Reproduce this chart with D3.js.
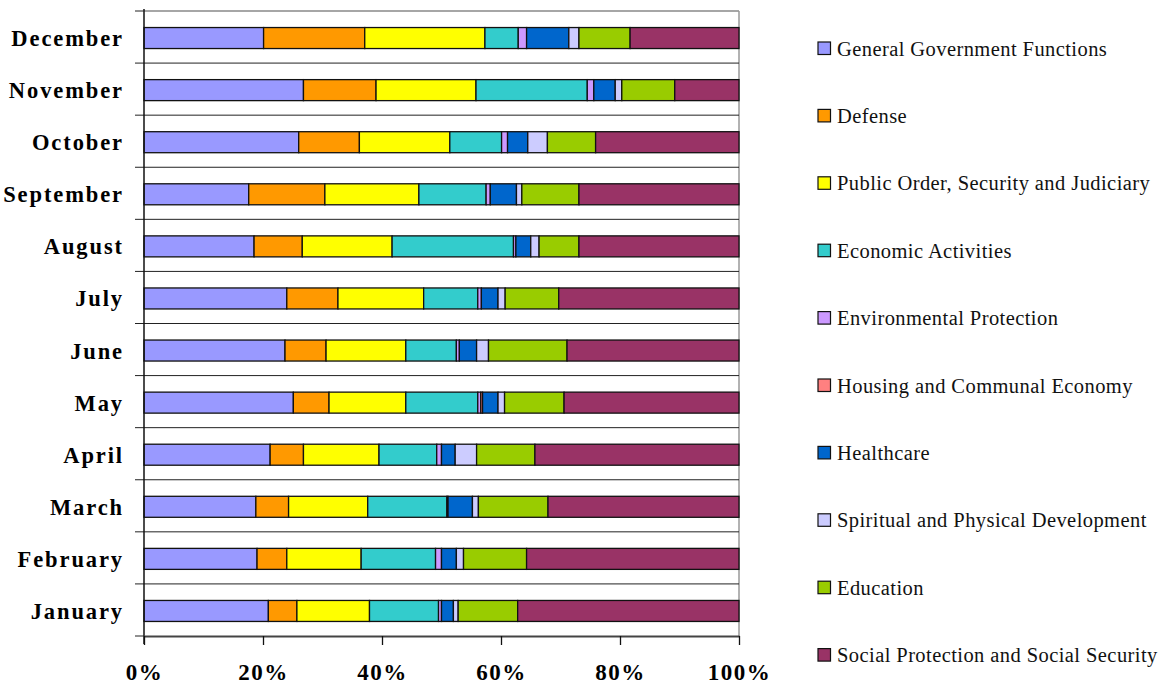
<!DOCTYPE html>
<html><head><meta charset="utf-8">
<script src="https://cdn.jsdelivr.net/npm/d3@7"></script>
<style>body{margin:0;background:#fff}</style>
</head><body>
<svg id="c" width="1165" height="687"></svg>
<script>
const months = ["January","February","March","April","May","June","July","August","September","October","November","December"];
const seriesNames = ["General Government Functions","Defense","Public Order, Security and Judiciary","Economic Activities","Environmental Protection","Housing and Communal Economy","Healthcare","Spiritual and Physical Development","Education","Social Protection and Social Security"];
const seriesColors = ["#9999FF","#FF9900","#FFFF00","#33CCCC","#CC99FF","#FF8080","#0066CC","#CCCCFF","#99CC00","#993366"];
// shares (%) per month, order of seriesNames
const jan = [20.9,4.8,12.2,11.6,0.5,0,2.0,0.8,10.0,37.2];
const feb = [19.0,5.0,12.5,12.5,1.0,0,2.5,1.2,10.6,35.7];
const mar = [18.8,5.5,13.3,13.3,0.2,0,4.1,1.0,11.7,32.1];
const apr = [21.2,5.6,12.7,9.7,0.8,0,2.3,3.6,9.8,34.3];
const may = [25.1,6.0,12.9,12.1,0.5,0.3,2.6,1.1,10.0,29.4];
const jun = [23.7,6.9,13.4,8.5,0.5,0,2.9,2.0,13.2,28.9];
const jul = [24.0,8.6,14.4,9.1,0.6,0,2.8,1.2,9.0,30.3];
const aug = [18.5,8.1,15.1,20.4,0.4,0,2.5,1.4,6.7,26.9];
const sep = [17.6,12.8,15.8,11.3,0.7,0,4.4,0.9,9.6,26.9];
const oct = [26.0,10.2,15.2,8.7,1.0,0,3.4,3.3,8.1,24.1];
const nov = [26.8,12.2,16.8,18.7,1.1,0,3.6,1.1,8.9,10.8];
const dec = [20.1,17.0,20.2,5.6,1.4,0,7.1,1.7,8.6,18.3];
const monthValues = [jan,feb,mar,apr,may,jun,jul,aug,sep,oct,nov,dec];
const xTicks = [0,0.2,0.4,0.6,0.8,1.0];

const svg = d3.select("#c");
const L = 144, R = 739, T = 11, B = 636;
const x = d3.scaleLinear().domain([0,1]).range([L,R]);
const y = d3.scaleBand().domain(months.slice().reverse()).range([T,B]).paddingInner(0).paddingOuter(0);
const bandH = y.bandwidth();
const barH = 21;
const serif = "'Liberation Serif','Times New Roman',serif";

// build stacked table
const table = months.map((m,i)=>{
  const row = {month:m};
  const tot = d3.sum(monthValues[i]);
  seriesNames.forEach((s,j)=> row[s] = monthValues[i][j]/tot);
  return row;
});
const stack = d3.stack().keys(seriesNames)(table);

// plot border (top/right gray)
svg.append("line").attr("x1",L).attr("x2",R).attr("y1",T).attr("y2",T).attr("stroke","#888").attr("stroke-width",1.5);
svg.append("line").attr("x1",R).attr("x2",R).attr("y1",T).attr("y2",B).attr("stroke","#999").attr("stroke-width",1.5);

// gridlines at band boundaries
const bounds = months.slice(0,11).map(m=>y(m));
svg.append("g").selectAll("line").data(bounds).join("line")
  .attr("x1",135).attr("x2",R).attr("y1",d=>d).attr("y2",d=>d)
  .attr("stroke","#222").attr("stroke-width",1);

// bars
svg.append("g").selectAll("g").data(stack).join("g")
  .attr("fill",(d,i)=>seriesColors[i])
  .selectAll("rect").data(d=>d.filter(p=>p[1]-p[0]>0)).join("rect")
  .attr("x",d=>x(d[0])).attr("width",d=>x(d[1])-x(d[0]))
  .attr("y",d=>y(d.data.month)+bandH/2-barH/2+1).attr("height",barH)
  .attr("stroke","#111").attr("stroke-width",1.3);

// left axis
svg.append("line").attr("x1",L).attr("x2",L).attr("y1",T-2).attr("y2",B+8).attr("stroke","#111").attr("stroke-width",1.5);
svg.append("g").selectAll("line").data([T,B]).join("line")
  .attr("x1",135).attr("x2",L).attr("y1",d=>d).attr("y2",d=>d).attr("stroke","#222").attr("stroke-width",1);

// bottom axis
const xAxis = d3.axisBottom(x).tickValues(xTicks).tickFormat(d3.format(".0%")).tickSize(9).tickSizeOuter(0);
const gx = svg.append("g").attr("transform",`translate(0,${B})`).call(xAxis);
gx.select(".domain").attr("stroke","#444").attr("stroke-width",2);
gx.selectAll(".tick line").attr("stroke","#111").attr("stroke-width",1.3);
gx.selectAll("text").attr("font-family",serif)
  .attr("font-weight","bold").attr("font-size",23).attr("letter-spacing",1.5).attr("fill","#000").attr("dy",null).attr("y",44);

// month labels
svg.append("g").selectAll("text").data(months).join("text")
  .attr("x",124).attr("y",m=>y(m)+bandH/2+9)
  .attr("text-anchor","end")
  .attr("font-family",serif)
  .attr("font-weight","bold").attr("font-size",22.5).attr("letter-spacing",1.9)
  .text(m=>m);

// legend
const lg = svg.append("g").selectAll("g").data(seriesNames).join("g")
  .attr("transform",(d,i)=>`translate(818,${48.5+i*67.4})`);
lg.append("rect").attr("x",0).attr("y",-6.5).attr("width",12.5).attr("height",12.5)
  .attr("fill",(d,i)=>seriesColors[i]).attr("stroke","#111").attr("stroke-width",1.2);
lg.append("text").attr("x",19).attr("y",7)
  .attr("font-family",serif).attr("font-size",20.5).attr("letter-spacing",0.42).attr("fill","#111")
  .text(d=>d);
</script>
</body></html>
